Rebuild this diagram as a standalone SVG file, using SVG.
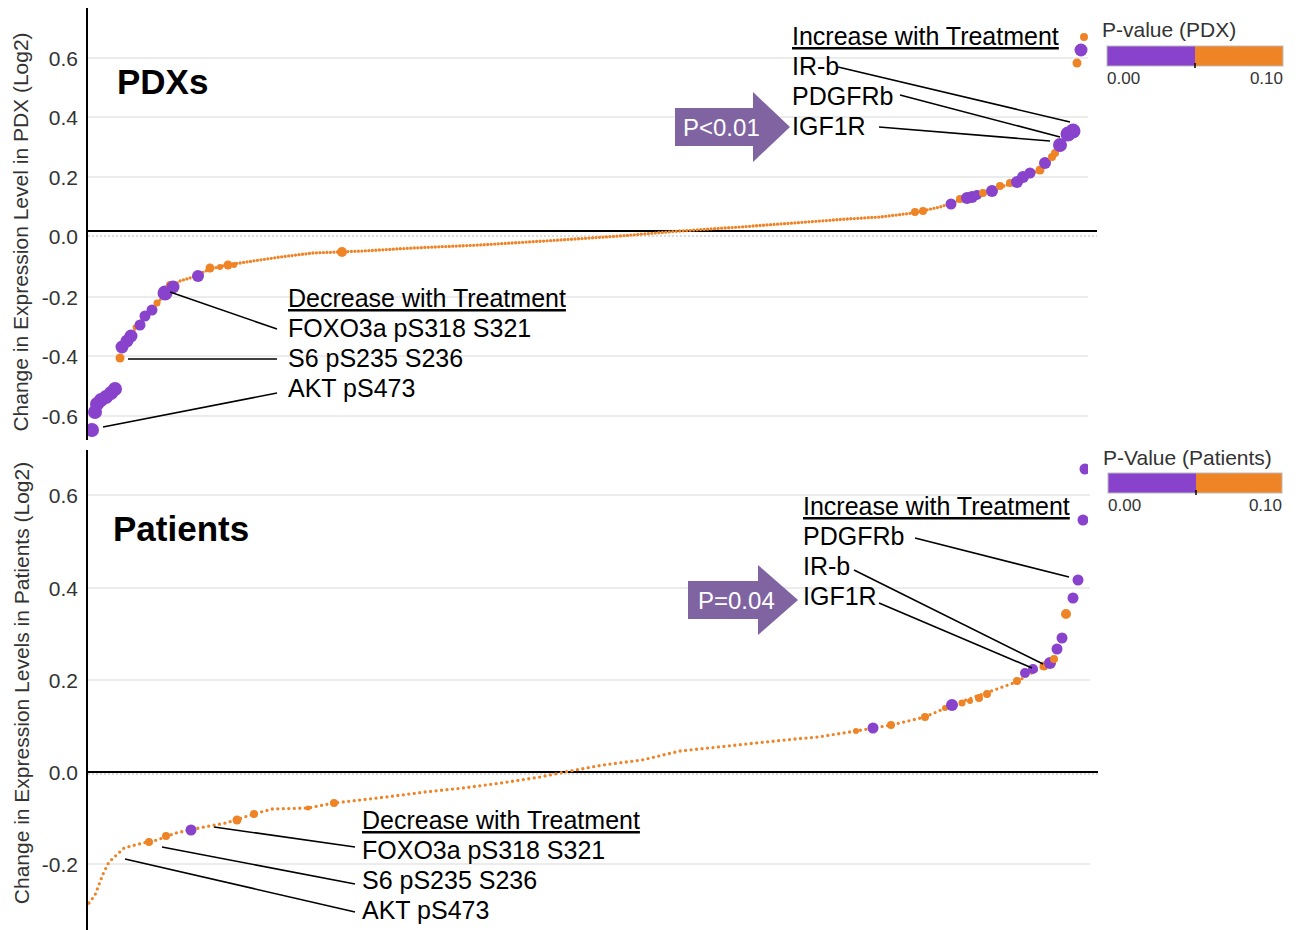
<svg xmlns="http://www.w3.org/2000/svg" width="1301" height="930" viewBox="0 0 1301 930">
<defs>
<style>
text{font-family:"Liberation Sans",Arial,sans-serif;}
.tick{font-size:21px;fill:#333;text-anchor:end;}
.atitle{font-size:21px;fill:#333;text-anchor:middle;}
.ptitle{font-size:35px;font-weight:bold;fill:#000;}
.ann{font-size:25px;fill:#000;}
.ul{text-decoration:underline;}
.leg{font-size:21px;fill:#333;}
.legn{font-size:17px;fill:#333;}
.arrtxt{font-size:24px;fill:#fff;}
.grid{stroke:#ececec;stroke-width:2;}
.axis{stroke:#000;stroke-width:2;fill:none;}
.conn{stroke:#000;stroke-width:1.6;fill:none;}
.pu{fill:#8842CC;}
.or{fill:#EF8426;}
.dots{fill:none;stroke:#EF8426;stroke-width:3.3;stroke-linecap:round;}
.arrow{fill:#8064A2;}
</style>
<clipPath id="plotclip"><rect x="88" y="0" width="1000" height="930"/></clipPath>
</defs>
<rect width="1301" height="930" fill="#fff"/>

<!-- Top panel -->
<g id="top-grid">
<line class="grid" x1="88" y1="58" x2="1088" y2="58"/>
<line class="grid" x1="88" y1="117" x2="1088" y2="117"/>
<line class="grid" x1="88" y1="177" x2="1088" y2="177"/>
<line class="grid" x1="88" y1="297" x2="1088" y2="297"/>
<line class="grid" x1="88" y1="356" x2="1088" y2="356"/>
<line class="grid" x1="88" y1="416" x2="1088" y2="416"/>
<line x1="88" y1="236" x2="1097" y2="236" stroke="#cfcfcf" stroke-width="1.5" stroke-dasharray="2 2"/>
</g>
<g id="top-axis">
<line class="axis" x1="87" y1="8" x2="87" y2="440"/>
<line class="axis" x1="87" y1="231" x2="1097" y2="231"/>
<text class="tick" x="78" y="66">0.6</text>
<text class="tick" x="78" y="125">0.4</text>
<text class="tick" x="78" y="185">0.2</text>
<text class="tick" x="78" y="244">0.0</text>
<text class="tick" x="78" y="305">-0.2</text>
<text class="tick" x="78" y="364">-0.4</text>
<text class="tick" x="78" y="424">-0.6</text>
<text class="atitle" transform="translate(28,232) rotate(-90)">Change in Expression Level in PDX (Log2)</text>
</g>
<text id="title-pdx" class="ptitle" x="117" y="94">PDXs</text>

<g id="top-data" clip-path="url(#plotclip)">
<path class="dots" stroke-dasharray="0 3.5" d="M122,350 L130,336 L140,322 L150,311 L160,300 L170,288 L180,281 L193,277 L210,269 L227,265 L253,261 L280,257 L313,253 L363,251 L413,248 L480,245 L560,240 L620,236 L680,231 L740,227 L780,224 L847,219 L880,217 L913,213 L940,207 L960,200 L983,193 L1010,184 L1040,170 L1052,158 L1062,143 L1070,132"/>
<circle class="pu" cx="92" cy="430" r="7"/>
<circle class="pu" cx="95" cy="412" r="7"/>
<circle class="pu" cx="97" cy="404" r="7"/>
<circle class="pu" cx="101" cy="400" r="7"/>
<circle class="pu" cx="106" cy="397" r="7"/>
<circle class="pu" cx="111" cy="393" r="7"/>
<circle class="pu" cx="115" cy="389" r="7"/>
<circle class="or" cx="120" cy="358" r="4.5"/>
<circle class="pu" cx="122" cy="347" r="6.5"/>
<circle class="pu" cx="127" cy="341" r="6.5"/>
<circle class="pu" cx="131" cy="336" r="6.5"/>
<circle class="or" cx="135" cy="327" r="2.5"/>
<circle class="pu" cx="140" cy="325" r="5.5"/>
<circle class="pu" cx="145" cy="316" r="5.5"/>
<circle class="pu" cx="152" cy="310" r="5.5"/>
<circle class="or" cx="157" cy="303" r="3.5"/>
<circle class="pu" cx="165" cy="293" r="7.5"/>
<circle class="or" cx="170" cy="285" r="4"/>
<circle class="pu" cx="173" cy="287" r="6.5"/>
<circle class="pu" cx="198" cy="276" r="6"/>
<circle class="or" cx="210" cy="268" r="4.5"/>
<circle class="or" cx="220" cy="267" r="3"/>
<circle class="or" cx="228" cy="265" r="4.5"/>
<circle class="or" cx="234" cy="265" r="3"/>
<circle class="or" cx="342" cy="252" r="5"/>
<circle class="or" cx="915" cy="212" r="4"/>
<circle class="or" cx="923" cy="211" r="4"/>
<circle class="pu" cx="951" cy="204" r="5.5"/>
<circle class="or" cx="960" cy="199" r="4"/>
<circle class="pu" cx="967" cy="198" r="6"/>
<circle class="pu" cx="972" cy="197" r="6"/>
<circle class="pu" cx="977" cy="195" r="5"/>
<circle class="or" cx="983" cy="193" r="4"/>
<circle class="pu" cx="992" cy="191" r="6"/>
<circle class="or" cx="1000" cy="186" r="4"/>
<circle class="or" cx="1010" cy="183" r="4"/>
<circle class="pu" cx="1017" cy="182" r="6"/>
<circle class="pu" cx="1023" cy="177" r="6"/>
<circle class="pu" cx="1030" cy="173" r="5.5"/>
<circle class="or" cx="1040" cy="170" r="4.5"/>
<circle class="pu" cx="1045" cy="163" r="6"/>
<circle class="or" cx="1052" cy="157" r="4"/>
<circle class="or" cx="1055" cy="153" r="4"/>
<circle class="pu" cx="1060" cy="145" r="7"/>
<circle class="pu" cx="1068" cy="134" r="7.5"/>
<circle class="pu" cx="1073" cy="131" r="7.5"/>
<circle class="or" cx="1084" cy="37" r="4"/>
<circle class="pu" cx="1081" cy="50" r="6.5"/>
<circle class="or" cx="1077" cy="63" r="4.5"/>
</g>

<g id="top-legend">
<text class="leg" x="1102" y="37">P-value (PDX)</text>
<rect x="1107" y="46" width="88" height="20" fill="#8842CC"/>
<rect x="1195" y="46" width="88" height="20" fill="#EF8426"/>
<rect x="1107" y="46" width="176" height="20" fill="none" stroke="#bbb" stroke-width="1"/>
<line x1="1195" y1="63" x2="1195" y2="68" stroke="#000" stroke-width="1.5"/>
<text class="legn" x="1107" y="84">0.00</text>
<text class="legn" x="1283" y="84" text-anchor="end">0.10</text>
</g>

<g id="top-increase-labels">
<text class="ann ul" x="792" y="45">Increase with Treatment</text>
<text class="ann" x="792" y="75">IR-b</text>
<text class="ann" x="792" y="105">PDGFRb</text>
<text class="ann" x="792" y="135">IGF1R</text>
</g>
<g id="top-arrow">
<polygon class="arrow" points="675,108 753,108 753,92 790,127 753,162 753,146 675,146"/>
<text class="arrtxt" x="683" y="136">P&lt;0.01</text>
</g>
<g id="top-decrease-labels">
<text class="ann ul" x="288" y="307">Decrease with Treatment</text>
<text class="ann" x="288" y="337">FOXO3a pS318 S321</text>
<text class="ann" x="288" y="367">S6 pS235 S236</text>
<text class="ann" x="288" y="397">AKT pS473</text>
</g>

<!-- Bottom panel -->
<g id="bottom-grid">
<line class="grid" x1="88" y1="495" x2="1090" y2="495"/>
<line class="grid" x1="88" y1="588" x2="1090" y2="588"/>
<line class="grid" x1="88" y1="680" x2="1090" y2="680"/>
<line class="grid" x1="88" y1="864" x2="1090" y2="864"/>
<line x1="88" y1="774" x2="1098" y2="774" stroke="#cfcfcf" stroke-width="1.5" stroke-dasharray="2 2"/>
</g>
<g id="bottom-axis">
<line class="axis" x1="87" y1="450" x2="87" y2="930"/>
<line class="axis" x1="87" y1="772" x2="1098" y2="772"/>
<text class="tick" x="78" y="503">0.6</text>
<text class="tick" x="78" y="596">0.4</text>
<text class="tick" x="78" y="688">0.2</text>
<text class="tick" x="78" y="780">0.0</text>
<text class="tick" x="78" y="872">-0.2</text>
<text class="atitle" transform="translate(29,683) rotate(-90)">Change in Expression Levels in Patients (Log2)</text>
</g>
<text id="title-patients" class="ptitle" x="113" y="541">Patients</text>

<g id="bottom-data" clip-path="url(#plotclip)">
<path class="dots" stroke-width="3" stroke-dasharray="0 5.5" d="M89,903 L95,895 L100,882 L103,874 L109,862 L124,848 L139,844 L157,840 L176,833 L199,828 L226,823 L254,814 L272,809 L308,808 L334,803 L386,797 L425,792 L463,788 L501,783 L540,777 L565,772 L603,765 L642,760 L680,751 L718,747 L756,743 L795,739 L818,737 L856,731 L891,725 L925,717 L952,705 L986,693 L1016,682 L1044,666"/>
<circle class="or" cx="149" cy="842" r="4"/>
<circle class="or" cx="166" cy="836" r="4"/>
<circle class="pu" cx="191" cy="830" r="5.5"/>
<circle class="or" cx="237" cy="820" r="4.5"/>
<circle class="or" cx="254" cy="814" r="4"/>
<circle class="or" cx="308" cy="808" r="2.5"/>
<circle class="or" cx="334" cy="803" r="4"/>
<circle class="or" cx="856" cy="731" r="3"/>
<circle class="pu" cx="873" cy="728" r="5.5"/>
<circle class="or" cx="891" cy="725" r="4"/>
<circle class="or" cx="925" cy="717" r="4"/>
<circle class="or" cx="945" cy="708" r="3"/>
<circle class="pu" cx="952" cy="705" r="6"/>
<circle class="or" cx="962" cy="703" r="3.5"/>
<circle class="or" cx="970" cy="701" r="3"/>
<circle class="or" cx="979" cy="698" r="4"/>
<circle class="or" cx="987" cy="694" r="4"/>
<circle class="or" cx="1017" cy="681" r="4"/>
<circle class="pu" cx="1025" cy="673" r="5"/>
<circle class="pu" cx="1033" cy="669" r="5"/>
<circle class="or" cx="1044" cy="666" r="4.5"/>
<circle class="pu" cx="1050" cy="663" r="6"/>
<circle class="or" cx="1054" cy="659" r="4"/>
<circle class="pu" cx="1057" cy="649" r="5.5"/>
<circle class="pu" cx="1062" cy="638" r="5.5"/>
<circle class="or" cx="1066" cy="614" r="5"/>
<circle class="pu" cx="1073" cy="598" r="5.5"/>
<circle class="pu" cx="1078" cy="580" r="5.5"/>
<circle class="pu" cx="1083" cy="520" r="5.5"/>
<circle class="pu" cx="1085" cy="469" r="5.5"/>
</g>

<g id="bottom-legend">
<text class="leg" x="1103" y="465">P-Value (Patients)</text>
<rect x="1108" y="473" width="88" height="20" fill="#8842CC"/>
<rect x="1196" y="473" width="86" height="20" fill="#EF8426"/>
<rect x="1108" y="473" width="174" height="20" fill="none" stroke="#bbb" stroke-width="1"/>
<line x1="1196" y1="490" x2="1196" y2="495" stroke="#000" stroke-width="1.5"/>
<text class="legn" x="1108" y="511">0.00</text>
<text class="legn" x="1282" y="511" text-anchor="end">0.10</text>
</g>

<g id="bottom-increase-labels">
<text class="ann ul" x="803" y="515">Increase with Treatment</text>
<text class="ann" x="803" y="545">PDGFRb</text>
<text class="ann" x="803" y="575">IR-b</text>
<text class="ann" x="803" y="605">IGF1R</text>
</g>
<g id="bottom-arrow">
<polygon class="arrow" points="688,581 758,581 758,565 798,600 758,635 758,619 688,619"/>
<text class="arrtxt" x="698" y="609">P=0.04</text>
</g>
<g id="bottom-decrease-labels">
<text class="ann ul" x="362" y="829">Decrease with Treatment</text>
<text class="ann" x="362" y="859">FOXO3a pS318 S321</text>
<text class="ann" x="362" y="889">S6 pS235 S236</text>
<text class="ann" x="362" y="919">AKT pS473</text>
</g>

<g id="connectors">
<line class="conn" x1="838" y1="67" x2="1070" y2="122"/>
<line class="conn" x1="900" y1="95" x2="1060" y2="137"/>
<line class="conn" x1="879" y1="127" x2="1050" y2="141"/>
<line class="conn" x1="170" y1="292" x2="277" y2="329"/>
<line class="conn" x1="128" y1="359" x2="277" y2="359"/>
<line class="conn" x1="103" y1="427" x2="277" y2="393"/>
<line class="conn" x1="915" y1="538" x2="1069" y2="577"/>
<line class="conn" x1="854" y1="570" x2="1043" y2="664"/>
<line class="conn" x1="879" y1="603" x2="1032" y2="668"/>
<line class="conn" x1="214" y1="827" x2="355" y2="847"/>
<line class="conn" x1="162" y1="847" x2="355" y2="884"/>
<line class="conn" x1="125" y1="859" x2="355" y2="912"/>
</g>
</svg>
